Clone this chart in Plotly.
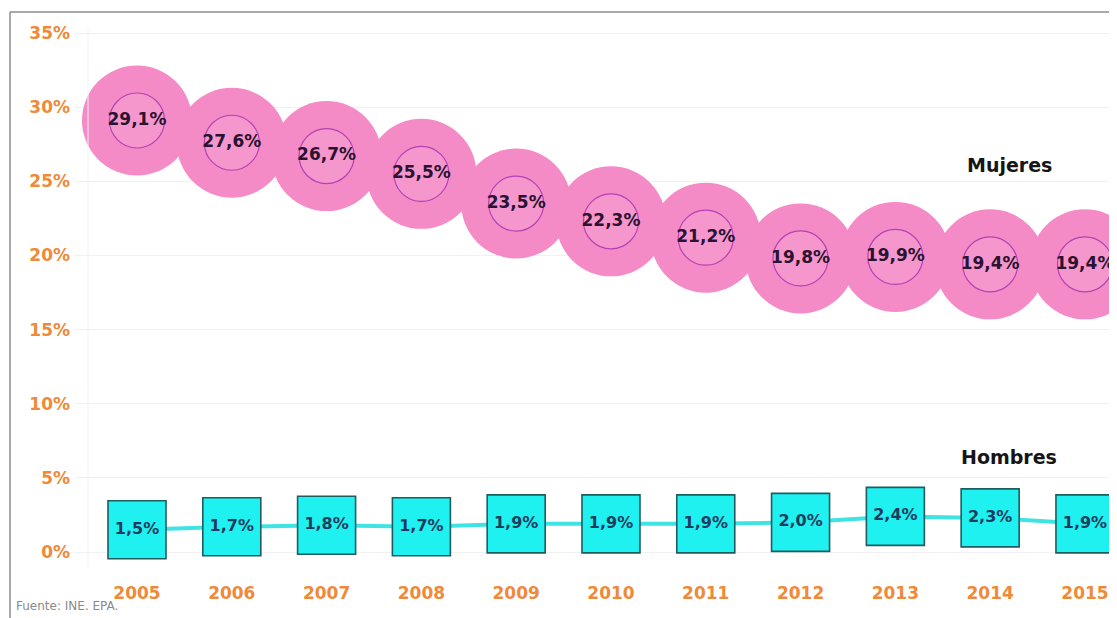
import plotly.graph_objects as go

years = [2005, 2006, 2007, 2008, 2009, 2010, 2011, 2012, 2013, 2014, 2015]
mujeres = [29.1, 27.6, 26.7, 25.5, 23.5, 22.3, 21.2, 19.8, 19.9, 19.4, 19.4]
hombres = [1.5, 1.7, 1.8, 1.7, 1.9, 1.9, 1.9, 2.0, 2.4, 2.3, 1.9]
y_ticks = [0, 5, 10, 15, 20, 25, 30, 35]
series_names = ["Mujeres", "Hombres"]
source_text = "Fuente: INE. EPA."


def fmt(v):
    return f"{v:.1f}".replace(".", ",") + "%"


FONT = "DejaVu Sans, Verdana, sans-serif"
ORANGE = "#EE8A3A"

fig = go.Figure()

# Mujeres: big pink circles
fig.add_trace(go.Scatter(
    x=years, y=mujeres, mode="markers",
    marker=dict(size=110, color="#F48BC6", line=dict(width=0)),
    hoverinfo="skip", showlegend=False))
fig.add_trace(go.Scatter(
    x=years, y=mujeres, mode="markers+text",
    marker=dict(size=55, color="#F596CC", line=dict(width=1.2, color="#B542B5")),
    text=[fmt(v) for v in mujeres], textposition="middle center",
    textfont=dict(family=FONT, size=17, color="#2A1230", weight="bold"),
    hoverinfo="skip", showlegend=False))

# Hombres: cyan line and squares
fig.add_trace(go.Scatter(
    x=years, y=hombres, mode="lines",
    line=dict(color="#3FE3E3", width=4),
    hoverinfo="skip", showlegend=False))
fig.add_trace(go.Scatter(
    x=years, y=hombres, mode="markers+text",
    marker=dict(symbol="square", size=58, color="#1FF0F0",
                line=dict(width=1.6, color="#1E5C60")),
    text=[fmt(v) for v in hombres], textposition="middle center",
    textfont=dict(family=FONT, size=16, color="#1E3C5E", weight="bold"),
    hoverinfo="skip", showlegend=False))

OFF = 8  # page body margin
W, H = 1117 - OFF, 618 - OFF
L = 75 - OFF
T = 12 - OFF
B = H - (578 - OFF)
pw = W - L
ph = H - T - B


def px_x(page_x):
    return ((page_x - OFF) - L) / pw


def px_y(page_y):
    return ((H - B) - (page_y - OFF)) / ph


fig.update_layout(
    width=W, height=H,
    margin=dict(l=L, r=0, t=T, b=B),
    paper_bgcolor="white", plot_bgcolor="white",
    font=dict(family=FONT),
    xaxis=dict(range=[2004.346, 2015.338], tickvals=years,
               ticktext=[str(y) for y in years],
               tickfont=dict(family=FONT, size=17, color=ORANGE, weight="bold"),
               showgrid=False, zeroline=False, showline=False, ticks="",
               ticklabelstandoff=3),
    yaxis=dict(range=[-1.753, 36.416], tickvals=y_ticks,
               ticktext=[f"{v}%" for v in y_ticks],
               tickfont=dict(family=FONT, size=17, color=ORANGE, weight="bold"),
               showgrid=True, gridcolor="#F1F1F1", gridwidth=1,
               zeroline=False, showline=False, ticks="",
               ticklabelstandoff=4),
    annotations=[
        dict(x=2014.2, y=26.1, xref="x", yref="y", text=series_names[0],
             showarrow=False, font=dict(family=FONT, size=19, color="#151515", weight="bold")),
        dict(x=2014.2, y=6.4, xref="x", yref="y", text=series_names[1],
             showarrow=False, font=dict(family=FONT, size=19, color="#151515", weight="bold")),
        dict(x=px_x(14), y=px_y(606), xref="paper", yref="paper",
             xanchor="left", yanchor="middle", text=source_text, showarrow=False,
             font=dict(family=FONT, size=12, color="#8A8A8A")),
    ],
    shapes=[
        dict(type="line", xref="paper", yref="paper",
             x0=px_x(10), x1=1.02, y0=1, y1=1,
             line=dict(color="#8C8C8C", width=1.5)),
        dict(type="line", xref="paper", yref="paper",
             x0=px_x(10), x1=px_x(10), y0=1, y1=px_y(620),
             line=dict(color="#8C8C8C", width=1.5)),
        dict(type="line", xref="paper", yref="paper",
             x0=px_x(88), x1=px_x(88), y0=0.97, y1=0.02,
             line=dict(color="#EDF3F6", width=1)),
    ],
)

fig.write_html("out.html")
